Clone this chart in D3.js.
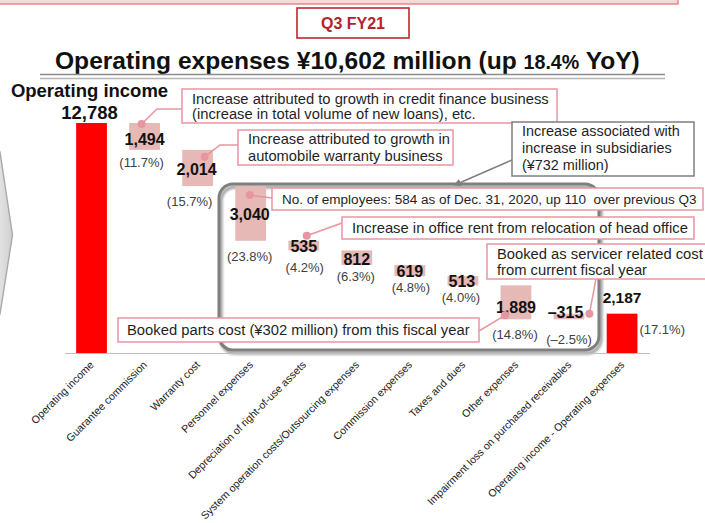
<!DOCTYPE html>
<html>
<head>
<meta charset="utf-8">
<script src="https://cdn.jsdelivr.net/npm/d3@7"></script>
<style>
  html, body { margin: 0; padding: 0; background: #fff; }
  svg { display: block; font-family: "Liberation Sans", Arial, sans-serif; }
  text { white-space: pre; }
</style>
</head>
<body>
<svg id="chart" width="705" height="523"></svg>
<script>
// ---- data (¥ million, Q3 FY21) ----
const categories = [
  "Operating income",
  "Guarantee commission",
  "Warranty cost",
  "Personnel expenses",
  "Depreciation of right-of-use assets",
  "System operation costs/Outsourcing expenses",
  "Commission expenses",
  "Taxes and dues",
  "Other expenses",
  "Impairment loss on purchased receivables",
  "Operating income - Operating expenses"
];
const amounts  = [12788, 1494, 2014, 3040, 535, 812, 619, 513, 1889, -315, 2187];
const barTypes = ["total", "step", "step", "step", "step", "step", "step", "step", "step", "step", "total"];
// share of operating income, %
const shares   = [null, 11.7, 15.7, 23.8, 4.2, 6.3, 4.8, 4.0, 14.8, -2.5, 17.1];

const periodLabel = "Q3 FY21";
const titleParts = ["Operating expenses ¥10,602 million (up ", "18.4%", " YoY)"];
const startLabel = "Operating income";

const notes = [
  ["Increase attributed to growth in credit finance business", "(increase in total volume of new loans), etc."],
  ["Increase attributed to growth in", "automobile warranty business"],
  ["Increase associated with", "increase in subsidiaries", "(¥732 million)"],
  ["No. of employees: 584 as of Dec. 31, 2020, up 110  over previous Q3"],
  ["Increase in office rent from relocation of head office"],
  ["Booked as servicer related cost", "from current fiscal year"],
  ["Booked parts cost (¥302 million) from this fiscal year"]
];

// ---- layout ----
const W = 705, H = 523;
const baseY = 353, topY = 123;
const svg = d3.select("#chart");
const defs = svg.append("defs");

const fmtLocale = d3.formatLocale({decimal: ".", thousands: ",", grouping: [3], currency: ["¥", ""], minus: "\u2013"});
const fmtNum = fmtLocale.format(",");
const fmtPct = fmtLocale.format(".1f");

const x = d3.scaleBand().domain(categories).range([65, 648.6]).paddingInner(0.42).paddingOuter(0.21);
const y = d3.scaleLinear().domain([0, d3.max(amounts)]).range([baseY, topY]);

// waterfall extents
let running = 0;
const bars = categories.map((c, i) => {
  let lo, hi;
  if (barTypes[i] === "total") { lo = 0; hi = amounts[i]; running = amounts[i]; }
  else { const start = running; running = start - amounts[i]; lo = Math.min(start, running); hi = Math.max(start, running); }
  return {c, i, lo, hi, v: amounts[i], type: barTypes[i], share: shares[i]};
});

// label placement per bar: value label (dx from centre, baseline from bar bottom), share label likewise
const labelPos = [
  null,
  {vdx: 0,    vdy: -5,   pdx: -3, pdy: 17},
  {vdx: -1,   vdy: -11,  pdx: -8, pdy: 20},
  {vdx: -1,   vdy: -21,  pdx: -1, pdy: 20.5},
  {vdx: 0,    vdy: 1.5,  pdx: 1,  pdy: 21.5},
  {vdx: 0,    vdy: 0,    pdx: -1, pdy: 16},
  {vdx: 0,    vdy: 1,    pdx: 1,  pdy: 16},
  {vdx: -1,   vdy: 1.5,  pdx: -2, pdy: 16.5},
  {vdx: 0,    vdy: -6.5, pdx: -1, pdy: 19.5},
  {vdx: -3.5, vdy: -1.5, pdx: 0,  pdy: 24.5},
  null
];

// ---- slide furniture ----
svg.append("rect").attr("width", W).attr("height", H).attr("fill", "#fff");
svg.append("rect").attr("x", -2).attr("y", -6).attr("width", 680).attr("height", 10)
  .attr("fill", "#f7d9d9").attr("stroke", "#e07070").attr("stroke-width", 1.2);

// chevron at the left edge
const chevGrad = defs.append("linearGradient").attr("id", "chev").attr("x1", 0).attr("x2", 1);
chevGrad.append("stop").attr("offset", 0).attr("stop-color", "#e6e6e6");
chevGrad.append("stop").attr("offset", 1).attr("stop-color", "#cfcfcf");
svg.append("path").attr("d", "M-3,152 L0,152 L12.5,235 L0,314 L-3,314 Z")
  .attr("fill", "url(#chev)").attr("stroke", "#a9a9a9").attr("stroke-width", 1.4);

// period badge
svg.append("rect").attr("x", 297).attr("y", 8).attr("width", 112).attr("height", 30)
  .attr("fill", "#fff").attr("stroke", "#c0272d").attr("stroke-width", 1.6);
svg.append("text").attr("x", 353).attr("y", 29).attr("text-anchor", "middle")
  .attr("font-size", 16).attr("font-weight", "bold").attr("fill", "#b3242b").text(periodLabel);

// headline
const title = svg.append("text").attr("x", 55).attr("y", 68.5).attr("font-size", 25)
  .attr("font-weight", "bold").attr("fill", "#111");
title.append("tspan").text(titleParts[0]);
title.append("tspan").attr("font-size", "0.8em").text(titleParts[1]);
title.append("tspan").text(titleParts[2]);
{
  const w = title.node().getComputedTextLength();
  title.attr("font-size", 25 * 585 / w);
}
svg.append("line").attr("x1", 40).attr("x2", 665).attr("y1", 74.5).attr("y2", 74.5).attr("stroke", "#8c8c8c").attr("stroke-width", 1.6);
svg.append("line").attr("x1", 40).attr("x2", 665).attr("y1", 78.5).attr("y2", 78.5).attr("stroke", "#b5b5b5").attr("stroke-width", 1.6);

// ---- grouping frame (subsidiary-related items) ----
const blur = defs.append("filter").attr("id", "soft").attr("x", "-5%").attr("y", "-5%").attr("width", "110%").attr("height", "110%");
blur.append("feGaussianBlur").attr("stdDeviation", 1.2);
svg.append("rect").attr("x", 221).attr("y", 187).attr("width", 380).attr("height", 166).attr("rx", 14)
  .attr("fill", "none").attr("stroke", "#a6a6a6").attr("stroke-width", 3.5).attr("filter", "url(#soft)");
svg.append("rect").attr("x", 219).attr("y", 184).attr("width", 380).attr("height", 166).attr("rx", 14)
  .attr("fill", "none").attr("stroke", "#7f7f7f").attr("stroke-width", 3);

// ---- axis ----
svg.append("line").attr("x1", 65).attr("x2", 650).attr("y1", baseY + 0.5).attr("y2", baseY + 0.5)
  .attr("stroke", "#bfbfbf").attr("stroke-width", 1);

const xAxis = svg.append("g").attr("class", "x-axis")
  .attr("transform", `translate(0,${baseY})`)
  .call(d3.axisBottom(x).tickSize(0).tickPadding(0));
xAxis.select(".domain").remove();
xAxis.selectAll(".tick text")
  .attr("font-family", "Liberation Sans, Arial, sans-serif")
  .attr("font-size", 10.6).attr("fill", "#1a1a1a")
  .attr("text-anchor", "end")
  .attr("dy", 0)
  .attr("transform", "translate(3,12.5) rotate(-45)");

// ---- bars ----
const pink = "#e7b9b6", red = "#ff0000";
svg.append("g").selectAll("rect").data(bars).join("rect")
  .attr("x", d => x(d.c))
  .attr("width", x.bandwidth())
  .attr("y", d => y(d.hi))
  .attr("height", d => y(d.lo) - y(d.hi))
  .attr("fill", d => d.type === "total" ? red : pink);

// ---- value and share labels ----
const cx = d => x(d.c) + x.bandwidth() / 2;
const labels = svg.append("g");
bars.forEach(d => {
  const p = labelPos[d.i];
  if (d.i === 0) {
    labels.append("text").attr("x", cx(d) - 2).attr("y", 97).attr("text-anchor", "middle")
      .attr("font-size", 18.5).attr("font-weight", "bold").attr("fill", "#111").text(startLabel);
    labels.append("text").attr("x", cx(d) - 2).attr("y", y(d.hi) - 4).attr("text-anchor", "middle")
      .attr("font-size", 18.5).attr("font-weight", "bold").attr("fill", "#111").text(fmtNum(d.v));
    return;
  }
  if (d.type === "total") {
    labels.append("text").attr("x", cx(d)).attr("y", y(d.hi) - 11).attr("text-anchor", "middle")
      .attr("font-size", 15.5).attr("font-weight", "bold").attr("fill", "#111").text(fmtNum(d.v));
    labels.append("text").attr("x", x(d.c) + x.bandwidth() + 2).attr("y", y(d.hi) + 20)
      .attr("font-size", 13).attr("fill", "#404040").text(`(${fmtPct(d.share)}%)`);
    return;
  }
  const bottom = y(d.lo);
  labels.append("text").attr("x", cx(d) + p.vdx).attr("y", bottom + p.vdy).attr("text-anchor", "middle")
    .attr("font-size", 16).attr("font-weight", "bold").attr("fill", "#111").text(fmtNum(d.v));
  labels.append("text").attr("x", cx(d) + p.pdx).attr("y", bottom + p.pdy).attr("text-anchor", "middle")
    .attr("font-size", 13).attr("fill", "#404040").text(`(${fmtPct(d.share)}%)`);
});

// ---- callouts ----
const calloutPink = "#e795a1";
const boxes = [
  {x: 182, y: 89,  w: 375, h: 34, tx: 192, base: [104, 119],      textW: 357, stroke: calloutPink},
  {x: 238, y: 130, w: 215, h: 35, tx: 248, base: [144, 161],      textW: 202, stroke: calloutPink},
  {x: 512, y: 122, w: 182, h: 54, tx: 522, base: [136, 153, 170], textW: 158, stroke: "#7f7f7f"},
  {x: 272, y: 188, w: 431, h: 22, tx: 282, base: [204],           textW: 415, stroke: calloutPink},
  {x: 342, y: 217, w: 352, h: 22, tx: 352, base: [233],           textW: 336, stroke: calloutPink},
  {x: 487, y: 244, w: 222, h: 35, tx: 497, base: [259, 275],      textW: 206, stroke: calloutPink},
  {x: 118, y: 318, w: 361, h: 24, tx: 127, base: [335],           textW: 343, stroke: calloutPink}
];

// leader lines from each bar to its note (drawn under the boxes)
const barAt = i => bars[i];
const barTopY = i => y(barAt(i).hi), barBotY = i => y(barAt(i).lo), barMidX = i => cx(barAt(i));
const leaders = [
  {dot: [barMidX(1) - 3, barTopY(1) + 1], path: [[157, 109], [182, 109]]},
  {dot: [barMidX(2) + 7, barTopY(2) + 7], path: [[220, 145], [238, 145]]},
  {dot: [barMidX(3) - 1, barTopY(3) + 9], path: [[272, 198]]},
  {dot: [barMidX(4) + 3, barTopY(4) - 5], path: [[342, 223]]},
  {dot: [x(barAt(9).c) + x.bandwidth() + 5, barTopY(9)], path: [[596, 279]]},
  {dot: [barMidX(8) - 11, barBotY(8) - 4], path: [[479, 331]]}
];
const lg = svg.append("g");
leaders.forEach(l => {
  lg.append("path").attr("d", d3.line()([l.dot, ...l.path]))
    .attr("fill", "none").attr("stroke", calloutPink).attr("stroke-width", 1.5);
  lg.append("circle").attr("cx", l.dot[0]).attr("cy", l.dot[1]).attr("r", 4).attr("fill", calloutPink);
});
// subsidiary note points at the frame
defs.append("marker").attr("id", "arrow").attr("viewBox", "0 0 10 10")
  .attr("refX", 5).attr("refY", 5).attr("markerWidth", 5).attr("markerHeight", 5).attr("orient", "auto")
  .append("path").attr("d", "M0,0 L10,5 L0,10 Z").attr("fill", "#7f7f7f");
lg.append("line").attr("x1", 512).attr("y1", 160).attr("x2", 457).attr("y2", 184)
  .attr("stroke", "#7f7f7f").attr("stroke-width", 1.5).attr("marker-end", "url(#arrow)");

const ng = svg.append("g");
boxes.forEach((b, i) => {
  ng.append("rect").attr("x", b.x).attr("y", b.y).attr("width", b.w).attr("height", b.h)
    .attr("fill", "#fff").attr("stroke", b.stroke).attr("stroke-width", 1.5);
  const lines = notes[i].map((t, k) => ng.append("text").attr("x", b.tx).attr("y", b.base[k])
    .attr("font-size", 13).attr("fill", "#1f1f1f").text(t));
  const w = lines[0].node().getComputedTextLength();
  const fs = 13 * b.textW / w;
  lines.forEach(t => t.attr("font-size", fs));
});
</script>
</body>
</html>
